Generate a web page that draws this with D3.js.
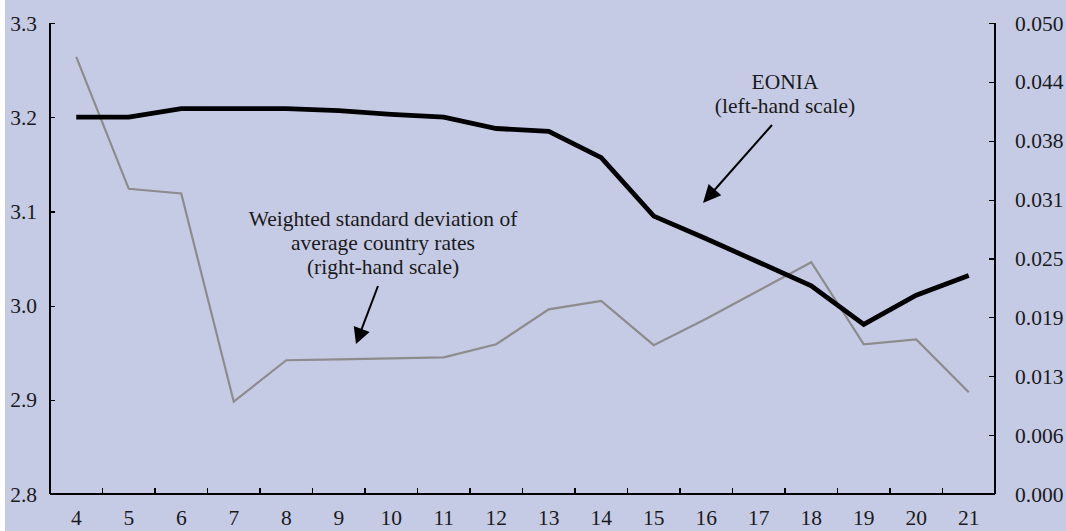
<!DOCTYPE html>
<html>
<head>
<meta charset="utf-8">
<script src="https://cdn.jsdelivr.net/npm/d3@7"></script>
<style>
  html, body { margin: 0; padding: 0; background: #ffffff; }
  svg { display: block; }
  text { font-family: "Liberation Serif", "Times New Roman", "DejaVu Serif", serif; fill: #1a1a1a; }
</style>
</head>
<body>
<svg id="chart" width="1066" height="531"></svg>
<script>
// ---- data ----
const categories = ["4","5","6","7","8","9","10","11","12","13","14","15","16","17","18","19","20","21"];
const eonia = [3.200, 3.200, 3.209, 3.209, 3.209, 3.207, 3.203, 3.200, 3.188, 3.185, 3.157, 3.095, 3.071, 3.046, 3.021, 2.980, 3.011, 3.032];
const stdDev = [0.0464, 0.0324, 0.0319, 0.0098, 0.0142, 0.0143, 0.0144, 0.0145, 0.0159, 0.0196, 0.0205, 0.0158, 0.0186, 0.0216, 0.0246, 0.0159, 0.0164, 0.0108];
const leftTicks = [2.8, 2.9, 3.0, 3.1, 3.2, 3.3];
const leftTickLabels = ["2.8", "2.9", "3.0", "3.1", "3.2", "3.3"];
const rightTicks = [0, 0.00625, 0.0125, 0.01875, 0.025, 0.03125, 0.0375, 0.04375, 0.05];
const rightTickLabels = ["0.000", "0.006", "0.013", "0.019", "0.025", "0.031", "0.038", "0.044", "0.050"];
const eoniaLabel = ["EONIA", "(left-hand scale)"];
const stdLabel = ["Weighted standard deviation of", "average country rates", "(right-hand scale)"];

// ---- layout ----
const W = 1066, H = 531;
const plot = { left: 50, right: 995, top: 23, bottom: 494 };
const FONT = '"Liberation Serif", "Times New Roman", "DejaVu Serif", serif';
const fontSize = 21.5;
const svg = d3.select("#chart");

svg.append("rect").attr("x", 5).attr("y", 0).attr("width", W - 5).attr("height", H).attr("fill", "#c6cbe5");

const x = d3.scaleBand().domain(categories).range([plot.left, plot.right]).paddingInner(0).paddingOuter(0);
const yL = d3.scaleLinear().domain([2.8, 3.3]).range([plot.bottom, plot.top]);
const yR = d3.scaleLinear().domain([0, 0.05]).range([plot.bottom, plot.top]);
const cx = d => x(d) + x.bandwidth() / 2;

function txt(sel) {
  return sel.attr("font-family", FONT).attr("font-size", fontSize).attr("fill", "#1a1a1a");
}

// ---- axes ----
// left axis
const gL = svg.append("g").attr("transform", `translate(${plot.left},0)`)
  .call(d3.axisRight(yL).tickValues(leftTicks).tickSize(5).tickFormat(""));
gL.selectAll("path, line").attr("stroke", "#000").attr("stroke-width", 1.2).attr("shape-rendering", "crispEdges");
gL.select(".domain").attr("d", `M0,${plot.top}V${plot.bottom}`);
svg.append("g").selectAll("text").data(leftTicks).join("text")
  .attr("x", 37).attr("y", d => yL(d)).attr("dy", "0.35em")
  .attr("text-anchor", "end").call(txt)
  .text((d, i) => leftTickLabels[i]);

// right axis
const gR = svg.append("g").attr("transform", `translate(${plot.right},0)`)
  .call(d3.axisLeft(yR).tickValues(rightTicks).tickSize(6).tickFormat(""));
gR.selectAll("path, line").attr("stroke", "#000").attr("stroke-width", 1.2).attr("shape-rendering", "crispEdges");
gR.select(".domain").attr("d", `M0,${plot.top}V${plot.bottom}`);
svg.append("g").selectAll("text").data(rightTicks).join("text")
  .attr("x", 1015).attr("y", d => yR(d)).attr("dy", "0.35em")
  .attr("text-anchor", "start").call(txt)
  .text((d, i) => rightTickLabels[i]);

// bottom axis: ticks at band boundaries pointing up
const boundaries = categories.map(c => x(c));
const gB = svg.append("g");
gB.append("line").attr("x1", plot.left).attr("x2", plot.right).attr("y1", plot.bottom).attr("y2", plot.bottom)
  .attr("stroke", "#000").attr("stroke-width", 1.2).attr("shape-rendering", "crispEdges");
gB.selectAll("line.tick").data(boundaries.slice(1)).join("line").attr("class", "tick")
  .attr("x1", d => d).attr("x2", d => d).attr("y1", plot.bottom).attr("y2", plot.bottom - 6)
  .attr("stroke", "#000").attr("stroke-width", 1.2).attr("shape-rendering", "crispEdges");
gB.selectAll("text").data(categories).join("text")
  .attr("x", d => cx(d)).attr("y", 525)
  .attr("text-anchor", "middle").call(txt)
  .text(d => d);

// ---- lines ----
const lineStd = d3.line().x((d, i) => cx(categories[i])).y(d => yR(d));
const lineEonia = d3.line().x((d, i) => cx(categories[i])).y(d => yL(d));

svg.append("path").datum(stdDev).attr("d", lineStd)
  .attr("fill", "none").attr("stroke", "#8c8c8c").attr("stroke-width", 2.2).attr("stroke-linejoin", "miter");
svg.append("path").datum(eonia).attr("d", lineEonia)
  .attr("fill", "none").attr("stroke", "#000").attr("stroke-width", 4.8).attr("stroke-linejoin", "miter");

// ---- annotations ----
function arrow(x1, y1, x2, y2, L, w) {
  const dx = x2 - x1, dy = y2 - y1, len = Math.hypot(dx, dy);
  const ux = dx / len, uy = dy / len;
  const bx = x2 - ux * L, by = y2 - uy * L;
  svg.append("line").attr("x1", x1).attr("y1", y1).attr("x2", bx + ux * 2).attr("y2", by + uy * 2)
    .attr("stroke", "#000").attr("stroke-width", 2);
  svg.append("polygon")
    .attr("points", [[x2, y2], [bx - uy * w, by + ux * w], [bx + uy * w, by - ux * w]].map(p => p.join(",")).join(" "))
    .attr("fill", "#000");
}

svg.append("g").selectAll("text").data(eoniaLabel).join("text")
  .attr("x", 785).attr("y", (d, i) => 89 + i * 24)
  .attr("text-anchor", "middle").call(txt).text(d => d);
arrow(772, 125, 703, 203, 18, 8.5);

svg.append("g").selectAll("text").data(stdLabel).join("text")
  .attr("x", 383).attr("y", (d, i) => 226 + i * 24)
  .attr("text-anchor", "middle").call(txt).text(d => d);
arrow(378, 286, 356, 344, 16, 8.5);
</script>
</body>
</html>
